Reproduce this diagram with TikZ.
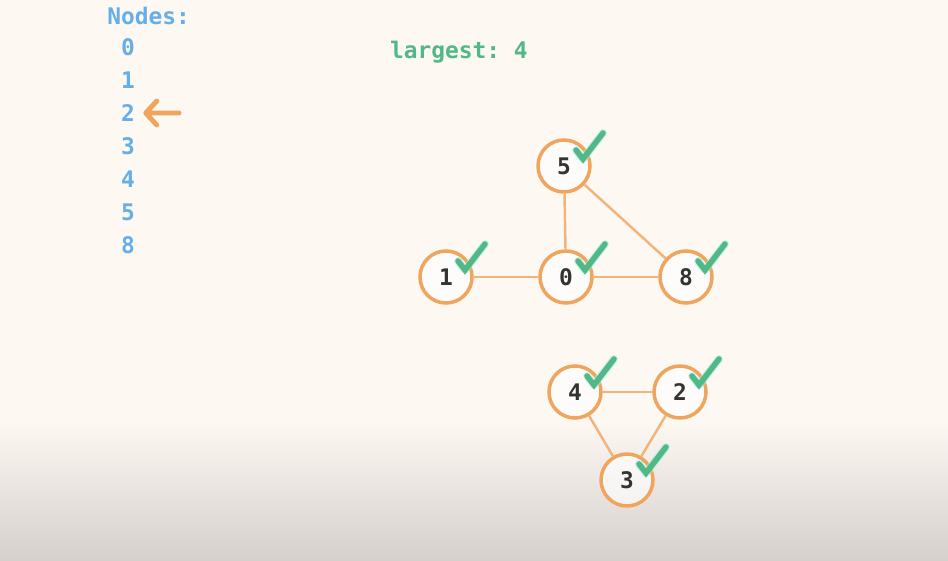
\documentclass[tikz,border=0pt]{standalone}
\usepackage{fontspec}
\setmonofont{DejaVu Sans Mono}
\usepackage{tikz}
\usetikzlibrary{positioning}
\definecolor{bgtop}{HTML}{FDF8F2}
\definecolor{bgbot}{HTML}{D5D0CC}
\definecolor{listblue}{HTML}{64AEEA}
\definecolor{tickgreen}{HTML}{52B888}
\definecolor{glowcyan}{HTML}{9FF0E8}
\definecolor{ringorange}{HTML}{F0A55E}
\definecolor{edgeorange}{HTML}{F2B47A}
\definecolor{numdark}{HTML}{333333}
\tikzset{
    tnode/.style = {align=center, inner sep=0pt, font=\ttfamily\bfseries},
    list_node/.style = {tnode, listblue, font=\ttfamily\bfseries\fontsize{13}{15}\selectfont},
    graph_node/.style = {tnode, circle, draw=ringorange, line width=2pt, fill=white, fill opacity=0.65, text opacity=1, minimum size=1.04cm, text=numdark, font=\ttfamily\bfseries\fontsize{13}{15}\selectfont},
    link/.style = {draw=edgeorange, line width=1.4pt},
    tick_glow/.style = {glowcyan, line width=4.6pt, opacity=0.5, line cap=round, line join=round},
    tick/.style = {tickgreen, line width=3.2pt, line cap=round, line join=miter}
}
\begin{document}
\begin{tikzpicture}[x=0.02cm, y=-0.02cm]
    % background
    \fill[bgtop] (0,0) rectangle (948,421);
    \fill[top color=bgtop, bottom color=bgbot] (0,420) rectangle (948,561);
    \useasboundingbox (0,0) rectangle (948,561);

    % node list
    \node[list_node, anchor=west] (title) at (107,16) {Nodes:};
    \foreach \v [count=\i from 0] in {0,1,2,3,4,5,8}
        \node[list_node] (l\v) at (128,47+33*\i) {\v};
    \coordinate (arrowtail) at (179,113);
    \draw[ringorange, line width=2.8pt, line cap=round, line join=round]
        (arrowtail) -- ([xshift=6]l2.east) -- ++(11,-12)
        ([xshift=6]l2.east) -- ++(11,12);

    \node[list_node, tickgreen] (largest) at (459,52) {largest: 4};

    % graph
    \node[graph_node] (n5) at (564,166) {5};
    \node[graph_node] (n1) at (446,277) {1};
    \node[graph_node] (n0) at (566,277) {0};
    \node[graph_node] (n8) at (686,277) {8};
    \node[graph_node] (n4) at (575,392) {4};
    \node[graph_node] (n2) at (680,392) {2};
    \node[graph_node] (n3) at (627,480) {3};

    \draw[link] (n5) -- (n0);
    \draw[link] (n5) -- (n8);
    \draw[link] (n1) -- (n0);
    \draw[link] (n0) -- (n8);
    \draw[link] (n4) -- (n2);
    \draw[link] (n4) -- (n3);
    \draw[link] (n2) -- (n3);

    % ticks
    \foreach \n in {5,1,0,8,4,2,3} {
        \draw[tick_glow] ([shift={(12,-16)}]n\n.center) -- ++(7,9) -- ++(20,-26);
        \draw[tick] ([shift={(12,-16)}]n\n.center) -- ++(7,9) -- ++(20,-26);
    }
\end{tikzpicture}
\end{document}
